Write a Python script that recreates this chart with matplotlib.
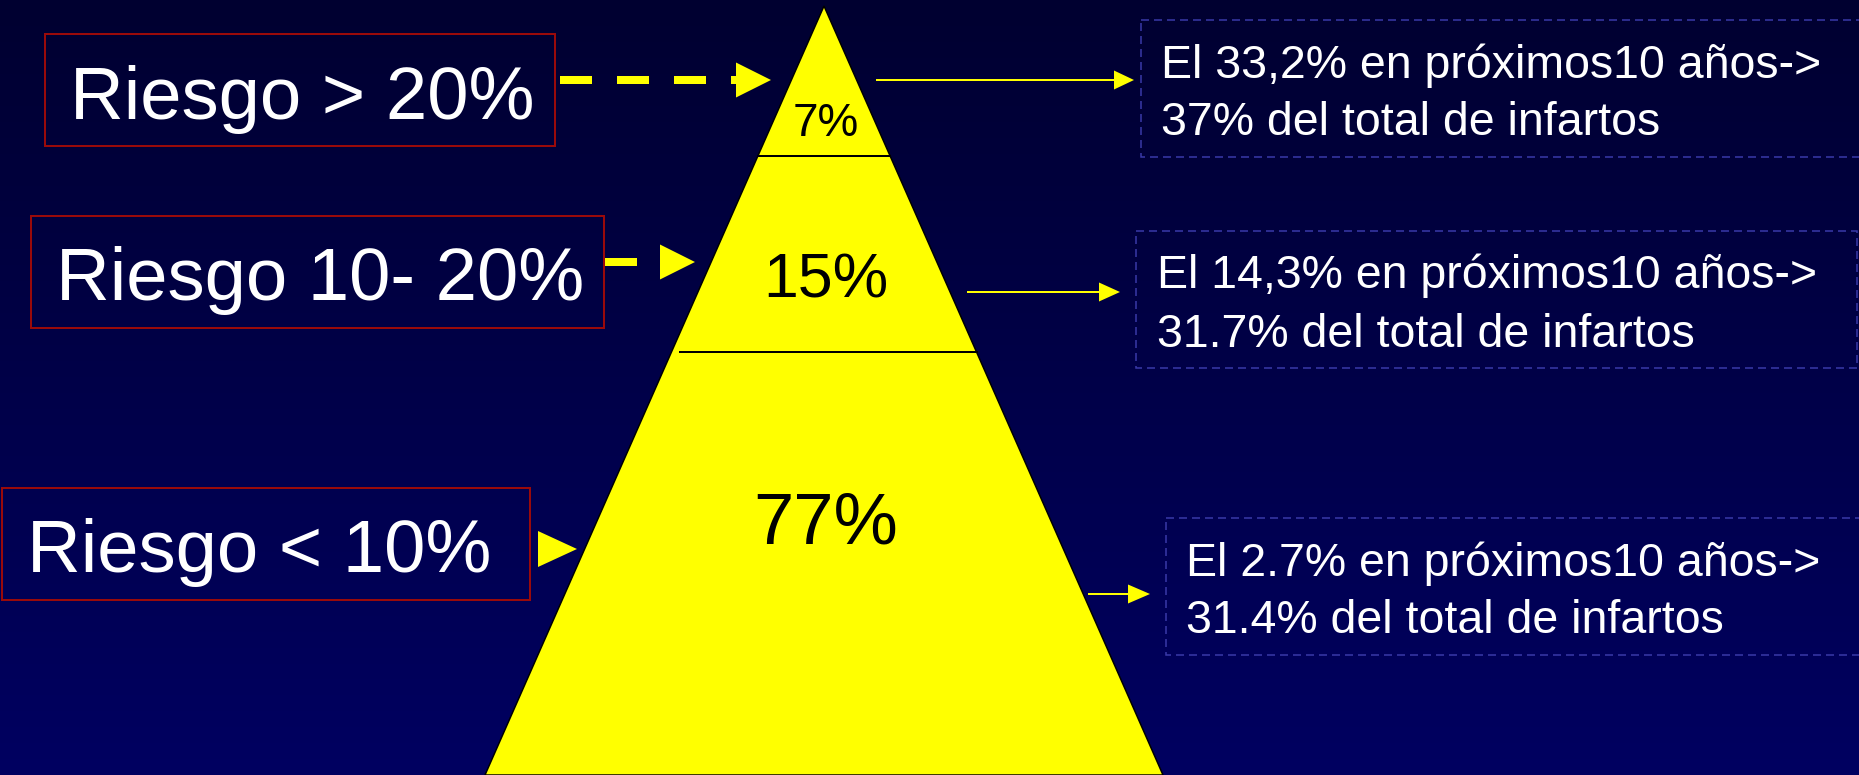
import numpy as np
import matplotlib
matplotlib.use("Agg")
import matplotlib.pyplot as plt
from matplotlib.patches import Polygon, Rectangle
from matplotlib.lines import Line2D

plt.rcParams["font.family"] = ["Liberation Sans", "DejaVu Sans"]
plt.rcParams["lines.scale_dashes"] = False

# ---- data ----
risk_labels = ["Riesgo > 20%", "Riesgo 10- 20%", "Riesgo < 10%"]
population_share = [7, 15, 77]
event_rate = ["33,2%", "14,3%", "2.7%"]
infarct_share = ["37%", "31.7%", "31.4%"]

W, H = 1859, 775
DPI = 100
PX = 72.0 / DPI  # points per pixel

fig = plt.figure(figsize=(W / DPI, H / DPI), dpi=DPI)
ax = fig.add_axes([0, 0, 1, 1])
ax.set_xlim(0, W)
ax.set_ylim(H, 0)
ax.axis("off")

# background: vertical navy gradient
top = np.array([0.0, 0.0, 0.19])
bot = np.array([0.0, 0.0, 0.38])
t = np.linspace(0, 1, 256)[:, None, None]
grad = top * (1 - t) + bot * t
grad = np.repeat(grad, 2, axis=1)
ax.imshow(grad, extent=(0, W, H, 0), aspect="auto", zorder=0, interpolation="bilinear")

# ---- pyramid ----
apex = (824, 6)
base_y = 775
half_base = 339
pyr = Polygon([apex, (apex[0] - half_base, base_y), (apex[0] + half_base, base_y)],
              closed=True, facecolor="#FFFF00", edgecolor="black", lw=1.5 * PX, zorder=2)
ax.add_patch(pyr)

def edge_x(y):
    frac = (y - apex[1]) / (base_y - apex[1])
    return apex[0] - half_base * frac, apex[0] + half_base * frac

# tier dividers
for y, inset in [(156, 0), (352, 9)]:
    xl, xr = edge_x(y)
    ax.add_line(Line2D([xl + inset, xr], [y, y], color="black", lw=2 * PX, zorder=3))

# tier percentages (baseline positions)
tier_y = [136, 298, 543]
tier_fs = [33, 45, 52]
for v, y, fs in zip(population_share, tier_y, tier_fs):
    ax.text(apex[0] + 2, y, f"{v}%", ha="center", va="baseline", fontsize=fs,
            color="black", zorder=4)

# ---- left risk boxes ----
left_boxes = [(45, 34, 555, 146), (31, 216, 604, 328), (2, 488, 530, 600)]
left_text = [(70, 119), (56, 300), (27, 572)]
for lab, (x0, y0, x1, y1), (tx, ty) in zip(risk_labels, left_boxes, left_text):
    ax.add_patch(Rectangle((x0, y0), x1 - x0, y1 - y0, fill=False,
                           edgecolor="#9A0A0A", lw=2 * PX, zorder=3))
    ax.text(tx, ty, lab, ha="left", va="baseline", fontsize=53.5, color="white", zorder=4)

yellow = "#FFFF00"

def head(x0, x1, yc, half):
    ax.add_patch(Polygon([(x0, yc - half), (x1, yc), (x0, yc + half)], closed=True,
                         facecolor=yellow, edgecolor="none", zorder=4))

# dashed arrow for high risk
ax.add_line(Line2D([560, 736], [80, 80], color=yellow, lw=8 * PX, zorder=4,
                   dashes=(32 * PX, 25 * PX), solid_capstyle="butt", dash_capstyle="butt"))
head(736, 771, 80, 17.5)
# short arrow for intermediate risk
ax.add_line(Line2D([605, 637], [262, 262], color=yellow, lw=8 * PX, zorder=4,
                   solid_capstyle="butt"))
head(660, 695, 262, 17.5)
# arrowhead for low risk
head(538, 577, 549, 18)

# ---- right outcome arrows and boxes ----
right_arrows = [(877, 1114, 1134, 80), (968, 1099, 1120, 292), (1089, 1128, 1150, 594)]
for x0, xh, x1, y in right_arrows:
    ax.add_line(Line2D([x0, xh], [y, y], color=yellow, lw=2 * PX, zorder=4))
    head(xh, x1, y, 9.5)

right_boxes = [(1141, 20, 1875, 157), (1136, 231, 1857, 368), (1166, 518, 1875, 655)]
right_text = [(1161, 78, 135), (1157, 288, 347), (1186, 576, 633)]
for rate, share, (x0, y0, x1, y1), (tx, b1, b2) in zip(event_rate, infarct_share,
                                                       right_boxes, right_text):
    ax.add_patch(Rectangle((x0, y0), x1 - x0, y1 - y0, fill=False, edgecolor="#3A3AAA",
                           lw=1.5 * PX, linestyle=(0, (8 * PX, 5 * PX)), zorder=3))
    ax.text(tx, b1, f"El {rate} en próximos10 años->", ha="left", va="baseline",
            fontsize=33.5, color="white", zorder=4)
    ax.text(tx, b2, f"{share} del total de infartos", ha="left", va="baseline",
            fontsize=33.5, color="white", zorder=4)

fig.savefig("out.png", dpi=DPI, facecolor="#000033")
